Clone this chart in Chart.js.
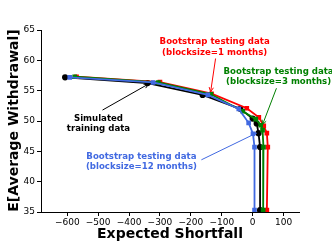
<!DOCTYPE html>
<html>
<head>
<meta charset="utf-8">
<script src="https://cdn.jsdelivr.net/npm/chart.js@4"></script>
<style>html,body{margin:0;padding:0;background:#fff}</style>
</head>
<body>
<canvas id="grafico" width="332" height="249"></canvas>
<script>
// datos
const simX = [-607, -340, -162, -40, 0, 13, 19, 24, 24];
const simY = [57.2, 56.25, 54.3, 52.0, 50.4, 49.6, 48.0, 45.7, 35.3];
const b1X = [-570, -300, -133, -19, 20, 36, 46, 49, 46];
const b1Y = [57.3, 56.4, 54.5, 52.1, 50.6, 49.2, 48.0, 45.7, 35.3];
const b3X = [-576, -305, -135, -32, 10, 26, 32, 35, 34];
const b3Y = [57.3, 56.35, 54.4, 51.6, 50.3, 49.3, 48.5, 45.7, 35.3];
const b12X = [-592, -322, -145, -45, -13, 1, 6, 6];
const b12Y = [57.2, 56.35, 54.3, 52.0, 49.7, 47.9, 45.7, 35.3];

const ticksX = [-600, -500, -400, -300, -200, -100, 0, 100];
const ticksY = [35, 40, 45, 50, 55, 60, 65];

// anotaciones: texto, color, centro del texto y flecha (en unidades de datos)
const notas = [
  { lineas: ['Bootstrap testing data', '(blocksize=1 months)'], color: '#ff0000', x: -123, y: [63.0, 61.2], desde: [-120, 60.3], hasta: [-136, 54.8] },
  { lineas: ['Bootstrap testing data', '(blocksize=3 months)'], color: '#008000', x: 84, y: [58.1, 56.4], desde: [77, 55.4], hasta: [32, 49.4] },
  { lineas: ['Simulated', 'training data'], color: '#000000', x: -499, y: [50.3, 48.7], desde: [-486, 51.8], hasta: [-337, 56.1] },
  { lineas: ['Bootstrap testing data', '(blocksize=12 months)'], color: '#4169e1', x: -360, y: [44.1, 42.4], desde: [-166, 43.6], hasta: [12, 48.0] }
];

const puntos = (xs, ys) => xs.map((x, i) => ({ x: x, y: ys[i] }));
const menos = v => String(v).replace('-', '\u2212');

const serie = (datos, color, forma, radio) => ({
  data: datos,
  showLine: true,
  borderColor: color,
  backgroundColor: color,
  borderWidth: 1.8,
  pointStyle: forma,
  pointRadius: radio,
  pointHoverRadius: radio
});

const anotar = {
  id: 'anotar',
  afterDatasetsDraw(chart) {
    const ctx = chart.ctx;
    const sx = chart.scales.x, sy = chart.scales.y;
    ctx.save();
    notas.forEach(n => {
      // flecha
      const x0 = sx.getPixelForValue(n.desde[0]), y0 = sy.getPixelForValue(n.desde[1]);
      const x1 = sx.getPixelForValue(n.hasta[0]), y1 = sy.getPixelForValue(n.hasta[1]);
      const ang = Math.atan2(y1 - y0, x1 - x0);
      ctx.strokeStyle = n.color;
      ctx.lineWidth = 1;
      ctx.beginPath();
      ctx.moveTo(x0, y0);
      ctx.lineTo(x1, y1);
      ctx.moveTo(x1 - 5 * Math.cos(ang - 0.45), y1 - 5 * Math.sin(ang - 0.45));
      ctx.lineTo(x1, y1);
      ctx.lineTo(x1 - 5 * Math.cos(ang + 0.45), y1 - 5 * Math.sin(ang + 0.45));
      ctx.stroke();
      // texto
      ctx.fillStyle = n.color;
      ctx.font = 'bold 8.6px "DejaVu Sans"';
      ctx.textAlign = 'center';
      ctx.textBaseline = 'middle';
      n.lineas.forEach((t, i) => ctx.fillText(t, sx.getPixelForValue(n.x), sy.getPixelForValue(n.y[i])));
    });
    // titulos de los ejes
    ctx.fillStyle = '#000';
    ctx.font = 'bold 14px "DejaVu Sans"';
    ctx.fillText('Expected Shortfall', 170, 234);
    ctx.translate(14, 120.5);
    ctx.rotate(-Math.PI / 2);
    ctx.fillText('E[Average Withdrawal]', 0, 0);
    ctx.restore();
  }
};

new Chart(document.getElementById('grafico'), {
  type: 'scatter',
  data: {
    datasets: [
      serie(puntos(b12X, b12Y), '#4169e1', 'rect', 2),
      serie(puntos(b3X, b3Y), '#008000', 'rect', 2),
      serie(puntos(b1X, b1Y), '#ff0000', 'rect', 2),
      serie(puntos(simX, simY), '#000000', 'circle', 2.2)
    ]
  },
  options: {
    responsive: false,
    animation: false,
    layout: { padding: { top: 30, right: 33, left: 0, bottom: 0 } },
    plugins: { legend: { display: false }, tooltip: { enabled: false } },
    scales: {
      x: {
        type: 'linear',
        min: -685,
        max: 150,
        afterBuildTicks: s => { s.ticks = ticksX.map(v => ({ value: v })); },
        afterFit: s => { s.height = 37; },
        ticks: { color: '#000', font: { family: 'DejaVu Sans', size: 9 }, padding: 1, maxRotation: 0, callback: v => menos(v) },
        grid: { drawOnChartArea: false, drawTicks: true, tickLength: 4, color: '#000' },
        border: { display: true, color: '#000', width: 1 }
      },
      y: {
        min: 35,
        max: 65,
        afterBuildTicks: s => { s.ticks = ticksY.map(v => ({ value: v })); },
        afterFit: s => { s.width = 41; },
        ticks: { color: '#000', font: { family: 'DejaVu Sans', size: 9 }, padding: 2, callback: v => menos(v) },
        grid: { drawOnChartArea: false, drawTicks: true, tickLength: 4, color: '#000' },
        border: { display: true, color: '#000', width: 1 }
      }
    }
  },
  plugins: [anotar]
});
</script>
</body>
</html>
